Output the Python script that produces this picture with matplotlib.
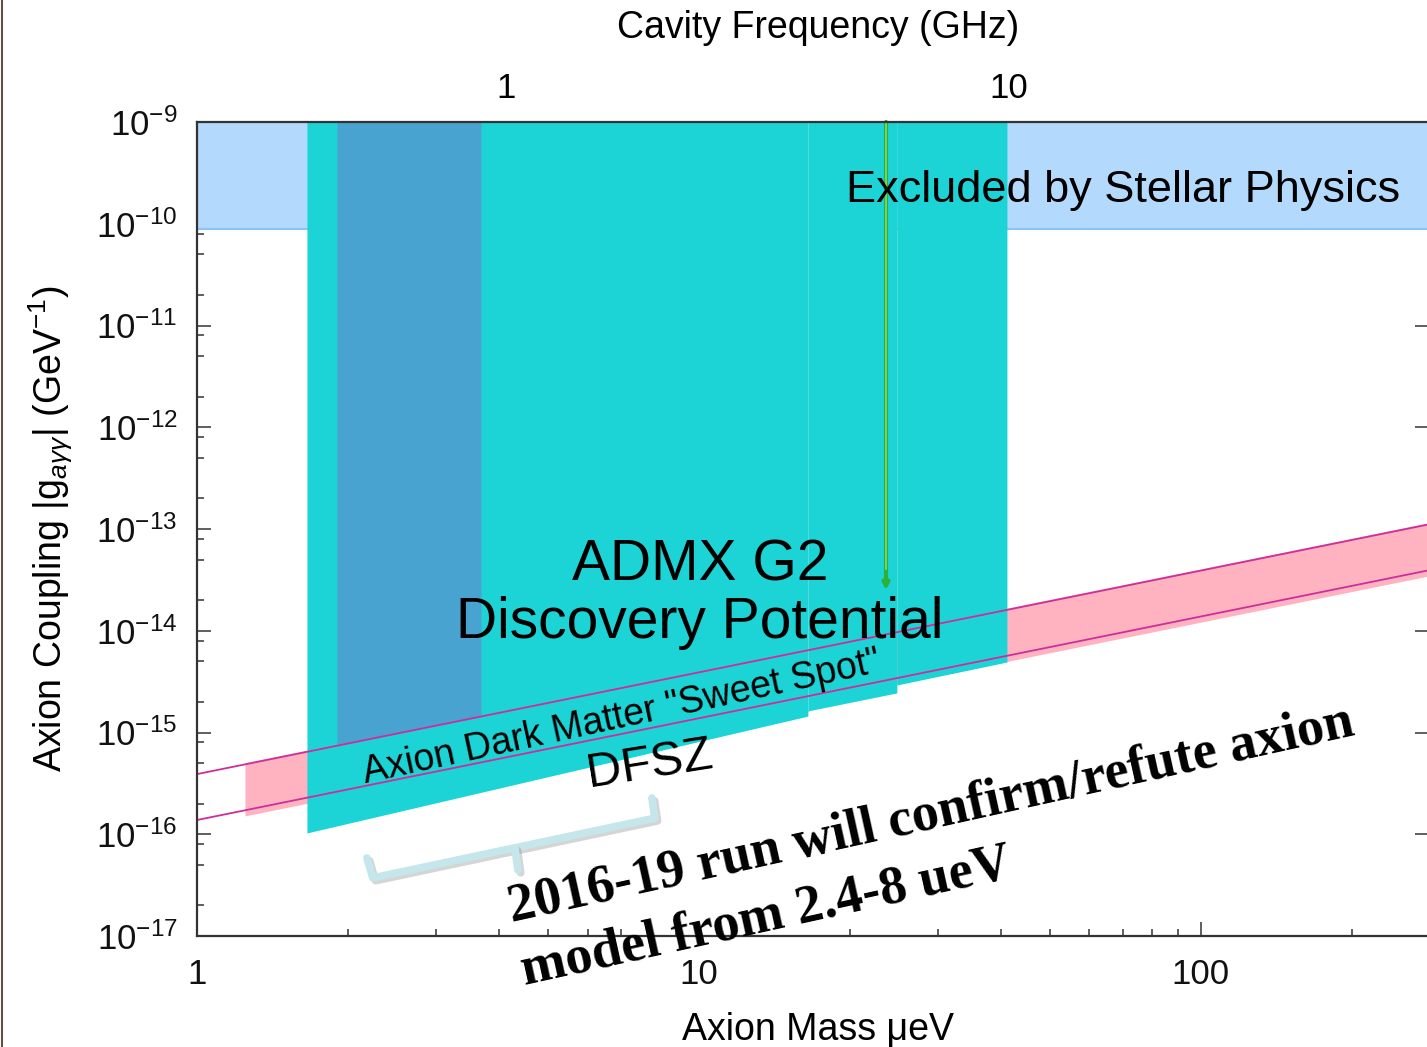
import numpy as np
import matplotlib
matplotlib.use('Agg')
import matplotlib.pyplot as plt
import matplotlib.patheffects as pe
from matplotlib.lines import Line2D
from matplotlib.ticker import LogLocator, NullFormatter, FixedLocator

plt.rcParams['font.family'] = ['Liberation Sans', 'DejaVu Sans']
plt.rcParams['mathtext.fontset'] = 'custom'
plt.rcParams['mathtext.rm'] = 'Liberation Sans'
plt.rcParams['mathtext.it'] = 'Liberation Sans:italic'
plt.rcParams['mathtext.bf'] = 'Liberation Sans:bold'
plt.rcParams['axes.unicode_minus'] = False

# axion mass range (ueV) and coupling range (1/GeV)
mass_lim = [1.0, 285.0]
coupling_lim = [1e-17, 1e-9]

# model lines: g = coef * m
ksvz_coef = 3.9e-16
dfsz_coef = 1.38e-16
pink_start = 1.246

# stellar physics bound
stellar_bound = 8.9e-11

# ADMX G2 reach: three mass segments with lower coupling edges
seg_mass = [[1.656, 16.49], [16.49, 24.8], [24.8, 41.1]]
seg_floor = [[1.03e-16, 1.45e-15], [1.63e-15, 2.45e-15], [2.93e-15, 4.93e-15]]
# already covered band (reaches down to KSVZ)
dark_mass = [1.90, 3.68]
# single green line
green_mass = 23.6
green_floor = 2.5e-14

# GHz per ueV
ghz_per_uev = 1 / 4.136

fig = plt.figure(figsize=(14.27, 10.47), dpi=100)
ax = fig.add_axes([197 / 1427, 111 / 1047, 1232 / 1427, 814 / 1047])
ax.set_xscale('log')
ax.set_yscale('log')
ax.set_xlim(mass_lim)
ax.set_ylim(coupling_lim)
ax.set_axisbelow(True)

# excluded by stellar physics
ax.fill_between(mass_lim, stellar_bound, coupling_lim[1], color='#b3d9fc', lw=0, zorder=1)
ax.plot(mass_lim, [stellar_bound] * 2, color='#8ec3f5', lw=1.5, zorder=1.1)

# pink sweet spot band
pm = np.array([pink_start, mass_lim[1]])
ax.fill_between(pm, dfsz_coef * pm * 0.88, ksvz_coef * pm * 1.04,
                color='#ffb3c1', lw=0, zorder=1.2)

# discovery potential (cyan)
for xs, ys in zip(seg_mass, seg_floor):
    ax.fill_between(xs, ys, coupling_lim[1], color='#1cd3d6', lw=0, zorder=2)
ax.plot([seg_mass[1][0]] * 2, [seg_floor[1][0], coupling_lim[1]], color='#4fdde0', lw=0.8, zorder=2.05)

dm = np.array(dark_mass)
ax.fill_between(dm, ksvz_coef * dm, coupling_lim[1], color='#48a3d0', lw=0, zorder=2.1)

# KSVZ / DFSZ lines
lm = np.array(mass_lim)
ax.plot(lm, ksvz_coef * lm, color='#cc2f9a', lw=1.3, zorder=3)
ax.plot(lm, dfsz_coef * lm, color='#cc2f9a', lw=1.3, zorder=3)

# green line with arrow
ax.annotate('', xy=(green_mass, green_floor), xytext=(green_mass, coupling_lim[1]),
            arrowprops=dict(arrowstyle='-|>', color='#2bb03a', lw=3.0,
                            mutation_scale=9, shrinkA=0, shrinkB=0), zorder=3.2)
ax.plot([green_mass] * 2, [green_floor * 1.6, coupling_lim[1]], color='#8fdc7a', lw=1.1, zorder=3.3)

# labels inside plot
ax.text(70, 2.1e-10, 'Excluded by Stellar Physics', fontsize=32.5, ha='center', va='center', zorder=5)
ax.text(10.05, 3.15e-14, 'ADMX G2', fontsize=41, ha='center', va='baseline', zorder=5)
ax.text(10.05, 8.5e-15, 'Discovery Potential', fontsize=41, ha='center', va='baseline', zorder=5)
ax.text(7.03, 1.39e-15, 'Axion Dark Matter "Sweet Spot"', fontsize=27, rotation=12.2,
        rotation_mode='anchor', ha='center', va='center', zorder=5)
ax.text(7.98, 4.8e-16, 'DFSZ', fontsize=35, rotation=9, rotation_mode='anchor',
        ha='center', va='center', zorder=5)

# brace under the 2.4-8 ueV range
brace_m = [2.18, 2.24, 8.17, 8.06]
brace_g = [5.85e-17, 3.72e-17, 1.44e-16, 2.27e-16]
tick_m = [4.30, 4.36]
tick_g = [7.33e-17, 4.45e-17]
shadow = [pe.SimpleLineShadow(offset=(2, -2), shadow_color='#888888', alpha=0.35), pe.Normal()]
ax.plot(brace_m, brace_g, color='#c5e6ea', lw=5.5, solid_joinstyle='round',
        solid_capstyle='round', path_effects=shadow, zorder=4, clip_on=False)
ax.plot(tick_m, tick_g, color='#c5e6ea', lw=5.5, solid_capstyle='round',
        path_effects=shadow, zorder=4, clip_on=False)

bold = dict(family=['Liberation Serif', 'DejaVu Serif'], fontweight='bold', fontsize=39,
            rotation=12.5, rotation_mode='anchor', ha='left', va='baseline', zorder=6, clip_on=False)
ax.text(4.24, 1.37e-17, '2016-19 run will confirm/refute axion', **bold)
ax.text(4.5, 3.3e-18, 'model from 2.4-8 ueV', **bold)

# axes styling
for s in ax.spines.values():
    s.set_color('#333333')
    s.set_linewidth(1.6)
    s.set_zorder(5)

ax.xaxis.set_major_locator(LogLocator(base=10, numticks=10))
ax.xaxis.set_minor_locator(LogLocator(base=10, subs=np.arange(2, 10), numticks=20))
ax.xaxis.set_minor_formatter(NullFormatter())
ax.yaxis.set_major_locator(LogLocator(base=10, numticks=20))
ax.yaxis.set_minor_locator(LogLocator(base=10, subs=[2, 5, 8], numticks=30))
ax.yaxis.set_minor_formatter(NullFormatter())
ax.xaxis.set_major_formatter(plt.FuncFormatter(lambda v, p: f'{v:g}'))

ax.tick_params(which='both', direction='in', colors='#333333', labelcolor='#111111', width=1.1)
ax.tick_params(which='major', length=10, labelsize=25)
ax.tick_params(which='minor', length=5)
ax.tick_params(axis='y', which='major', right=True, pad=14)
ax.tick_params(axis='y', which='minor', right=False)
ax.tick_params(axis='x', which='both', top=False, pad=16)

ax.set_xlabel('Axion Mass \u03bceV', fontsize=27)
ax.xaxis.set_label_coords(0.504, -0.093)
ax.set_ylabel(r'Axion Coupling |g$_{a\gamma\gamma}$| (GeV$^{-1}$)', fontsize=27)
ax.yaxis.set_label_coords(-0.099, 0.5)

# top axis in cavity frequency
sec = ax.secondary_xaxis('top', functions=(lambda m: m * ghz_per_uev, lambda f: f / ghz_per_uev))
sec.xaxis.set_major_locator(FixedLocator([1, 10]))
sec.xaxis.set_minor_locator(FixedLocator([]))
sec.xaxis.set_major_formatter(plt.FuncFormatter(lambda v, p: f'{v:g}'))
sec.tick_params(length=0, labelsize=25, pad=12)
sec.spines['top'].set_visible(False)
fig.text(818 / 1427, 1 - 28 / 1047, 'Cavity Frequency (GHz)', fontsize=27, ha='center', va='center')

fig.add_artist(Line2D([0.0015, 0.0015], [0, 1], transform=fig.transFigure, color='#5e5440', lw=1.5))

fig.savefig('out.png', dpi=100)
